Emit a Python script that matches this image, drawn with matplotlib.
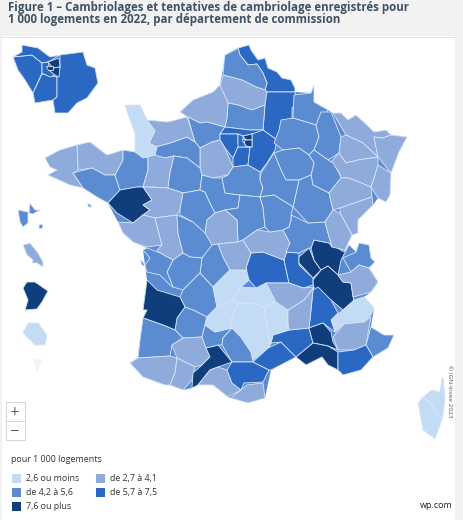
import matplotlib
matplotlib.use("Agg")
import matplotlib.pyplot as plt
from matplotlib.patches import Polygon, Rectangle

title_lines = ["Figure 1 – Cambriolages et tentatives de cambriolage enregistrés pour",
               "1 000 logements en 2022, par département de commission"]
legend_title = "pour 1 000 logements"
legend_labels = ["2,6 ou moins", "de 2,7 à 4,1", "de 4,2 à 5,6", "de 5,7 à 7,5", "7,6 ou plus"]
class_colors = ["#c4dbf6", "#8eabdc", "#5b8bd0", "#2a68c3", "#103e7d"]

# class index (0-4) of every traced map zone
zone_classes = {
 "nord":3,"pas_calais":2,"somme":1,"aisne":3,"oise":2,"seine_mar":1,"eure":2,"val_oise":3,"yvelines":3,
 "essonne":3,"seine_marne":3,"hds":3,"ssd":4,"paris":4,"vdm":4,"eure_loir":1,"orne":2,"calvados":1,"manche":0,
 "cotes":1,"finistere":1,"morbihan":2,"ille":2,"mayenne":1,"sarthe":2,"loire_atl":4,"maine":1,"vendee":1,
 "deux_sevres":1,"vienne":2,"indre_loire":2,"loir_cher":2,"loiret":2,"cher":2,"indre":1,"creuse":2,
 "charente":2,"char_mar":2,"dordogne":2,"lot_gar":2,"gironde":4,"landes":2,"pyr_atl":1,"gers":1,"htes_pyr":1,
 "hte_gar":4,"ariege":1,"lot":2,"tarn":2,"aude":3,"aveyron":0,"herault":3,"gard":3,"pyr_or":1,
 "correze":0,"cantal":0,"lozere":0,"hte_loire":0,"puy_dome":3,"loire":3,"rhone":4,"ain":4,"isere":4,
 "hte_savoie":2,"savoie":1,"htes_alpes":0,"drome":3,"ardeche":1,"loire2":1,"vaucluse":4,"bdr":4,"ahp":1,
 "alpes_mar":2,"var":3,"allier":1,"saone_loire":1,"saone2":2,"ardennes":2,"marne":2,"meuse":2,"moselle":1,"meurthe":1,
 "bas_rhin":1,"haut_rhin":1,"vosges":1,"hte_marne":2,"aube":2,"cote_or":2,"hte_saone":1,"doubs":1,"jura":1,
 "yonne":2,"nievre":2,"guad1":2,"guad2":2,"guad3":2,"martinique":1,"guyane":4,"reunion":0,"corse1":0,"corse2":0,
 "idf_yv":3,"idf_vo":3,"idf_es":3,"idf_sm":3,"idf_hds":3,"idf_ssd":4,"idf_vdm":4,"idf_par":4,"belle_ile":2,"oleron":2,
}

# outer coast and border of the mainland, and of the Paris-region inset
mainland = [(238,48),(249,45),(251,50),(258,60),(265,58),(268,68),(277,72),(282,78),(291,80),(295,88),(295,92),(311,93),(314,85),
 (314,102),(328,110),(333,113),(341,113),(348,120),(356,115),(369,127),(374,132),(386,130),(391,135),(407,137),(399,152),(391,173),
 (390,195),(386,202),(378,198),(373,205),(358,220),(358,233),(352,235),(345,250),(349,245),(356,252),(359,243),(369,245),(371,258),
 (375,262),(369,268),(378,282),(371,292),(364,297),(374,308),(371,327),(384,335),(394,335),(388,348),(373,357),(361,370),(343,375),
 (338,370),(328,365),(322,357),(306,365),(296,357),(271,370),(265,398),(248,403),(231,398),(228,397),(213,385),(198,385),(192,388),
 (183,390),(170,385),(165,385),(143,377),(130,363),(138,358),(140,340),(143,318),(147,310),(143,310),(147,280),(143,250),(147,248),
 (133,242),(123,233),(118,222),(108,203),(97,197),(83,188),(70,185),(48,175),(57,170),(50,167),(45,158),(60,150),(77,145),(90,142),
 (107,155),(123,150),(135,152),(135,133),(130,120),(125,105),(140,105),(147,120),(168,122),(187,117),(180,112),(193,100),(213,92),
 (220,85),(224,63),(225,55)]
inset = [(22,45),(38,48),(50,57),(60,55),(83,52),(87,65),(95,68),(98,83),(87,98),(77,103),(68,113),(55,113),(53,100),(35,103),
 (33,93),(25,80),(18,70),(13,57),(22,52)]

# traced outlines of the zones, in the picture's map units
zone_outlines = {
 "nord":[(238,48),(249,45),(251,50),(258,60),(265,58),(268,68),(277,72),(282,78),(291,80),(295,88),(295,92),(267,92),(265,90),(267,83),(263,73),(257,64),(248,65),(240,55)],
 "pas_calais":[(225,55),(235,50),(238,48),(240,55),(248,65),(257,64),(263,73),(267,83),(265,90),(256,87),(242,80),(223,75),(224,63)],
 "somme":[(223,75),(242,80),(256,87),(265,90),(267,92),(265,105),(252,110),(238,105),(228,103),(220,87)],
 "aisne":[(267,92),(295,92),(297,102),(292,108),(292,118),(281,130),(277,140),(263,130),(265,105)],
 "oise":[(228,103),(238,105),(252,110),(265,105),(263,130),(250,130),(225,127),(227,117)],
 "seine_mar":[(180,112),(193,100),(213,92),(220,85),(228,103),(227,118),(225,127),(207,122),(200,123),(188,117)],
 "eure":[(188,117),(200,123),(207,122),(225,127),(220,134),(220,140),(212,142),(200,148),(195,142),(192,132)],
 "val_oise":[(225,127),(250,130),(263,130),(267,135),(252,134),(243,136),(238,134),(220,134)],
 "yvelines":[(220,134),(238,134),(238,143),(241,147),(238,147),(233,158),(225,148),(220,140)],
 "essonne":[(238,147),(250,147),(248,165),(233,167),(233,158)],
 "seine_marne":[(252,134),(263,130),(277,140),(275,150),(267,163),(260,172),(248,165),(250,147),(252,147)],
 "hds":[(238,134),(243,136),(243,141),(246,146),(250,147),(238,147),(238,143)],
 "ssd":[(243,136),(252,134),(252,140),(246,140)],
 "paris":[(242,139),(246,139),(246,142),(243,142)],
 "vdm":[(246,140),(252,140),(252,147),(246,146),(244,142)],
 "eure_loir":[(212,142),(220,140),(225,148),(233,167),(228,175),(213,178),(202,175),(200,167),(200,148)],
 "orne":[(155,147),(170,143),(187,137),(195,142),(200,148),(200,168),(187,158),(174,156),(165,158),(155,156)],
 "calvados":[(147,120),(168,122),(187,117),(192,132),(195,142),(187,137),(170,143),(155,147),(149,143),(155,131)],
 "manche":[(125,105),(140,105),(147,120),(155,131),(149,143),(157,147),(155,155),(143,158),(135,152),(135,133),(130,120)],
 "cotes":[(77,145),(90,142),(107,155),(123,150),(123,160),(115,175),(105,175),(92,168),(78,170)],
 "finistere":[(45,158),(60,150),(77,145),(78,170),(73,173),(83,188),(70,185),(48,175),(57,170),(50,167)],
 "morbihan":[(73,173),(92,168),(105,175),(115,175),(120,190),(108,203),(97,197),(83,188)],
 "ille":[(123,150),(135,152),(143,158),(148,157),(148,170),(143,187),(137,187),(120,190),(115,175),(123,160)],
 "mayenne":[(148,157),(155,155),(165,158),(174,156),(170,173),(168,188),(153,187),(143,187),(148,170)],
 "sarthe":[(174,156),(187,158),(200,168),(202,175),(200,190),(183,193),(168,188),(170,173)],
 "loire_atl":[(108,203),(120,190),(137,187),(143,187),(152,200),(143,205),(150,210),(143,215),(133,223),(117,213)],
 "maine":[(143,187),(168,188),(183,193),(180,210),(177,215),(155,218),(143,215),(150,210),(143,205),(152,200)],
 "vendee":[(118,222),(133,223),(143,215),(155,218),(158,230),(162,245),(147,247),(133,242),(123,233)],
 "deux_sevres":[(155,218),(177,215),(178,233),(183,253),(173,260),(160,253),(157,250),(162,245),(158,230)],
 "vienne":[(177,215),(193,222),(203,230),(207,233),(213,245),(202,258),(190,257),(183,253),(178,233)],
 "indre_loire":[(180,210),(183,193),(200,190),(205,192),(210,203),(215,213),(207,220),(205,233),(193,222),(180,215)],
 "loir_cher":[(200,190),(202,175),(213,178),(222,178),(225,193),(240,195),(238,208),(225,210),(215,213),(210,203),(205,192)],
 "loiret":[(222,178),(228,175),(233,167),(248,165),(260,172),(260,180),(263,188),(260,197),(240,195),(225,193)],
 "cher":[(238,208),(240,195),(260,197),(263,207),(265,227),(257,230),(243,240),(238,242),(237,220),(225,210)],
 "indre":[(207,220),(215,213),(225,210),(237,220),(238,242),(218,244),(212,245),(205,233)],
 "creuse":[(212,245),(218,244),(223,257),(230,270),(222,278),(213,287),(200,273),(202,258)],
 "charente":[(167,272),(173,260),(183,253),(190,257),(202,258),(200,273),(183,290),(173,287)],
 "char_mar":[(147,248),(160,253),(173,260),(167,272),(173,287),(170,285),(160,275),(147,272),(145,265),(150,258),(143,250)],
 "dordogne":[(200,273),(213,287),(217,307),(207,317),(193,310),(185,307),(180,297),(183,290)],
 "lot_gar":[(185,307),(193,310),(207,317),(205,325),(202,337),(183,338),(175,330),(177,318)],
 "gironde":[(147,280),(157,290),(180,297),(185,307),(177,318),(175,330),(163,325),(143,318),(147,310),(143,310)],
 "landes":[(143,318),(163,325),(175,330),(183,338),(172,345),(170,356),(138,358),(140,340)],
 "pyr_atl":[(130,363),(138,358),(170,356),(177,358),(175,373),(170,385),(165,385),(143,377)],
 "gers":[(172,345),(183,338),(202,337),(206,348),(210,357),(202,365),(195,367),(177,358)],
 "htes_pyr":[(177,358),(195,367),(192,380),(183,390),(170,385),(175,373)],
 "hte_gar":[(206,348),(218,345),(232,362),(218,367),(210,370),(198,385),(192,388),(193,373),(202,365),(210,357)],
 "ariege":[(198,385),(210,370),(218,367),(227,370),(232,383),(241,390),(228,397),(213,385)],
 "lot":[(205,325),(215,332),(232,328),(223,338),(222,345),(218,345),(206,348),(202,337)],
 "tarn":[(223,338),(232,328),(241,337),(251,352),(253,362),(232,362),(222,345)],
 "aude":[(232,362),(253,362),(269,370),(263,382),(244,383),(241,390),(232,383),(227,370)],
 "herault":[(253,362),(268,348),(281,342),(296,357),(271,370),(269,370)],
 "gard":[(273,335),(289,330),(309,328),(313,343),(296,357),(281,342),(271,343)],
 "pyr_or":[(231,398),(241,390),(247,385),(263,383),(265,398),(248,403)],
 "aveyron":[(230,322),(238,303),(254,303),(264,307),(270,345),(268,348),(253,360),(251,352),(241,337),(232,328)],
 "correze":[(213,287),(222,278),(230,270),(247,270),(249,280),(241,287),(232,300),(217,307)],
 "cantal":[(207,317),(217,307),(232,300),(238,303),(230,322),(232,328),(215,332),(205,325)],
 "lozere":[(232,300),(241,287),(256,288),(266,283),(276,302),(264,307),(254,303),(238,303)],
 "hte_loire":[(264,307),(276,302),(288,310),(288,323),(289,330),(273,335),(271,343),(268,348),(270,345)],
 "puy_dome":[(246,268),(251,253),(263,252),(284,260),(289,283),(266,283),(256,288),(249,280)],
 "loire":[(284,260),(286,252),(299,253),(299,265),(313,278),(313,285),(303,288),(289,283)],
 "rhone":[(299,257),(309,248),(314,260),(321,270),(313,278),(299,263)],
 "ain":[(311,248),(314,240),(329,243),(344,252),(349,245),(341,260),(338,275),(328,266),(321,270),(314,260)],
 "isere":[(313,280),(321,270),(328,266),(338,275),(343,282),(351,283),(354,302),(343,310),(331,300),(314,290)],
 "hte_savoie":[(343,258),(356,252),(359,243),(369,245),(371,258),(375,262),(369,268),(359,265),(351,272)],
 "savoie":[(338,275),(351,272),(359,265),(369,268),(378,282),(371,292),(353,297),(351,283),(343,282)],
 "htes_alpes":[(331,320),(343,310),(354,300),(364,297),(374,308),(371,315),(364,322),(344,324),(335,332)],
 "drome":[(313,290),(318,287),(331,300),(338,313),(331,320),(335,332),(323,323),(309,328),(311,310)],
 "ardeche":[(288,310),(304,300),(314,287),(313,290),(311,310),(309,328),(289,330),(288,323)],
 "loire2":[(266,283),(289,283),(303,288),(314,287),(304,300),(288,310),(276,302)],
 "vaucluse":[(309,328),(323,323),(331,332),(333,342),(338,350),(328,346),(313,343)],
 "bdr":[(296,357),(313,343),(328,346),(338,352),(338,370),(328,365),(322,357),(306,365)],
 "ahp":[(333,337),(344,324),(364,322),(371,317),(366,345),(354,350),(338,350)],
 "alpes_mar":[(371,327),(384,335),(394,335),(388,348),(373,357),(366,345)],
 "var":[(338,352),(354,350),(366,345),(373,357),(361,370),(343,375),(338,370)],
 "allier":[(218,244),(238,242),(243,240),(251,253),(246,268),(247,270),(230,270),(223,257)],
 "saone_loire":[(243,240),(257,230),(270,232),(283,230),(290,243),(284,260),(263,252),(251,253)],
 "saone2":[(291,215),(308,223),(325,222),(328,233),(332,247),(329,243),(314,240),(311,248),(309,248),(299,253),(286,252),(290,243),(283,230),(289,227),(291,220)],
 "ardennes":[(294,95),(311,93),(314,85),(314,102),(328,110),(321,123),(316,125),(293,118)],
 "marne":[(281,120),(293,118),(316,125),(319,137),(314,150),(309,155),(299,148),(283,150),(274,143),(279,130)],
 "meuse":[(321,112),(331,112),(341,137),(339,153),(328,160),(314,150),(319,137),(316,125)],
 "moselle":[(333,113),(341,113),(348,120),(356,115),(369,127),(374,132),(386,130),(391,135),(383,138),(374,137),(378,157),(363,143),(346,135),(343,130)],
 "meurthe":[(341,137),(346,135),(363,143),(378,157),(358,160),(346,163),(339,153)],
 "bas_rhin":[(374,137),(383,138),(391,135),(407,137),(399,152),(391,173),(378,157)],
 "haut_rhin":[(378,165),(391,173),(390,195),(386,202),(378,198),(371,187)],
 "vosges":[(331,162),(339,153),(346,163),(358,160),(378,157),(378,165),(371,187),(349,178),(341,178),(339,172)],
 "hte_marne":[(309,155),(314,150),(328,160),(333,163),(339,173),(341,178),(329,193),(313,185),(311,175),(314,163)],
 "aube":[(274,153),(283,150),(299,148),(309,155),(314,163),(311,175),(299,180),(286,180),(281,170)],
 "cote_or":[(299,180),(311,175),(313,185),(329,193),(333,210),(325,222),(308,223),(293,207)],
 "hte_saone":[(329,193),(341,178),(349,178),(371,187),(372,197),(340,208),(333,210)],
 "doubs":[(340,208),(372,197),(373,205),(358,220),(358,233),(352,235),(340,213)],
 "jura":[(325,222),(333,210),(340,213),(352,235),(345,250),(332,247),(328,233)],
 "yonne":[(261,173),(274,153),(281,170),(286,180),(299,180),(293,207),(274,195),(260,197),(263,188),(260,180)],
 "nievre":[(263,207),(260,197),(274,195),(293,207),(291,215),(291,220),(289,227),(283,230),(270,232),(265,227)],
 "guad1":[(18,210),(28,212),(28,223),(23,227),(20,222)],
 "guad2":[(30,203),(35,210),(40,210),(33,214),(29,213)],
 "guad3":[(39,225),(42,224),(43,227),(41,229),(39,228)],
 "martinique":[(23,245),(30,243),(38,253),(43,262),(43,267),(37,263),(32,263),(33,260),(27,255)],
 "guyane":[(27,282),(35,282),(48,291),(42,302),(37,309),(25,310),(28,300),(23,288)],
 "reunion":[(28,323),(38,323),(47,335),(45,345),(35,345),(23,333)],
 "corse1":[(442,378),(443,378),(445,398),(443,417),(436,415),(432,405),(423,397),(432,390),(440,392)],
 "corse2":[(423,397),(432,405),(436,415),(443,417),(435,439),(423,430),(418,403)],
 "idf_yv":[(13,57),(32,55),(42,63),(42,73),(33,93),(25,80),(18,70)],
 "idf_vo":[(22,45),(38,48),(50,57),(60,55),(48,62),(42,63),(32,55),(13,57),(22,52)],
 "idf_es":[(42,74),(57,77),(57,97),(53,100),(35,103),(33,93)],
 "idf_sm":[(60,55),(83,52),(87,65),(95,68),(98,83),(87,98),(77,103),(68,113),(55,113),(53,100),(57,97),(57,77),(60,67)],
 "idf_hds":[(42,63),(48,62),(50,70),(55,75),(50,77),(42,73)],
 "idf_ssd":[(48,62),(59,58),(60,67),(53,68)],
 "idf_vdm":[(53,68),(60,67),(59,77),(55,75),(50,71)],
 "idf_par":[(46,66),(53,66),(53,70),(48,70)],
 "belle_ile":[(87,204),(90,204),(92,207),(89,207)],
 "oleron":[(140,260),(143,262),(145,266),(142,265)],
}
mayotte = [(33,358),(42,360),(37,373)]

fig = plt.figure(figsize=(4.63, 5.2), dpi=100, facecolor="white")
ax = fig.add_axes([0, 0, 1, 1])
ax.set_xlim(0, 463)
ax.set_ylim(520, 0)
ax.axis("off")
plt.rcParams["font.family"] = ["Open Sans", "DejaVu Sans"]

# page frame
ax.add_patch(Rectangle((0, 0), 463, 36, fc="#f2f2f2", ec="none"))
ax.add_patch(Rectangle((455, 0), 8, 520, fc="#f2f2f2", ec="none"))
ax.add_patch(Rectangle((0, 36), 2, 484, fc="#f2f2f2", ec="none"))
ax.plot([2, 455], [36.5, 36.5], color="#e4e4e4", lw=0.7)

ax.add_patch(Polygon(mainland, closed=True, fc=class_colors[2], ec="none"))
ax.add_patch(Polygon(inset, closed=True, fc=class_colors[3], ec="none"))
for name, pts in zone_outlines.items():
    ax.add_patch(Polygon(pts, closed=True, fc=class_colors[zone_classes[name]],
                         ec="#d9e7f8", lw=0.6, joinstyle="round"))
ax.add_patch(Polygon(mayotte, closed=True, fc="#f4f4f4", ec="none"))

for i, line in enumerate(title_lines):
    ax.text(8, 7.5 + i * 12.5, line, fontsize=8.3, fontweight="bold", color="#3f5266",
            family="Open Sans", va="center", ha="left")

# zoom control
for y0, sym in [(402, "+"), (421, "−")]:
    ax.add_patch(Rectangle((5.5, y0), 19, 19, fc="white", ec="#d4d4d4", lw=0.7))
    ax.text(15, y0 + 9.5, sym, ha="center", va="center", fontsize=8.5, color="#555555", family="DejaVu Sans")

ax.text(11, 459, legend_title, fontsize=6.4, color="#333333", va="center")
swatch_x = [12, 96, 12, 96, 12]
swatch_y = [474, 474, 488, 488, 502]
for lab, col, x, y in zip(legend_labels, class_colors, swatch_x, swatch_y):
    ax.add_patch(Rectangle((x, y), 8.5, 8.5, fc=col, ec="none"))
    ax.text(x + 14, y + 4.5, lab, fontsize=6.4, color="#333333", va="center")

ax.text(449, 391, "© IGN-Insee 2023", rotation=-90, fontsize=4.6, color="#555555", ha="center", va="center")
ax.text(436, 506, "wp.com", fontsize=6.5, color="#222222", ha="center", va="center")

fig.savefig("out.png", dpi=100, facecolor="white")
